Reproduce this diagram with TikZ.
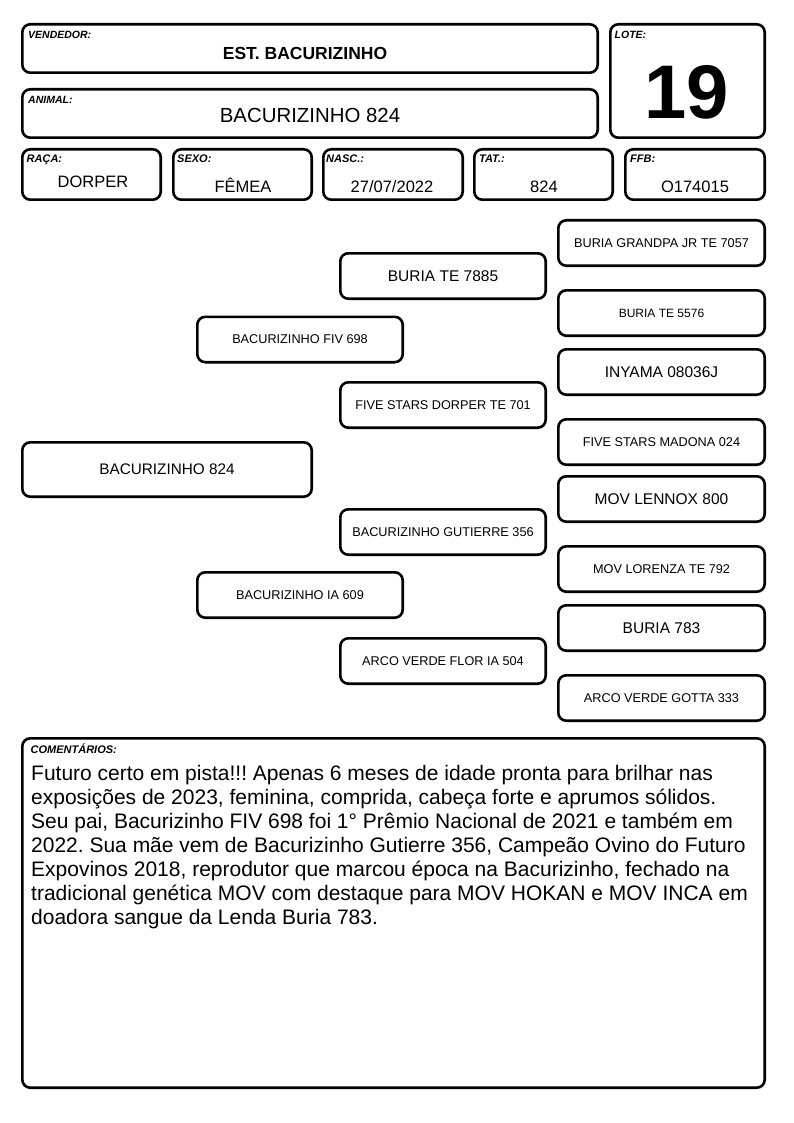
\documentclass[tikz,border=0pt]{standalone}
\usepackage{fontspec}
\setmainfont{Liberation Sans}
\frenchspacing
\begin{document}
\begin{tikzpicture}[x=1pt,y=-1pt,
  box/.style={draw, line width=2.6pt, rounded corners=8pt, inner sep=0pt, align=center},
  pbox/.style={box, minimum height=45.4pt},
  lbl/.style={anchor=base west, inner sep=0pt, font=\fontsize{10.5}{12}\selectfont\bfseries\itshape},
  lbs/.style={lbl, font=\fontsize{11}{13}\selectfont\bfseries\itshape},
  val/.style={anchor=base, inner sep=0pt, font=\fontsize{16.5}{20}\selectfont},
  ps/.style={font=\fontsize{12.7}{15}\selectfont},
  pl/.style={font=\fontsize{15.5}{18}\selectfont}
]
\useasboundingbox (0,0) rectangle (794,1123);
% header boxes
\node[box, minimum width=575.4pt, minimum height=48.4pt] (vend) at (310,48.5) {};
\node[box, minimum width=575.4pt, minimum height=48.4pt] (anim) at (310,113.5) {};
\node[box, minimum width=154.4pt, minimum height=113.4pt] (lote) at (687.5,81) {};
\node[lbl] (vendl) at (28,39) {VENDEDOR:};
\node[anchor=base, inner sep=0pt, font=\fontsize{17.5}{20}\selectfont\bfseries] (vendt) at (305,60) {EST. BACURIZINHO};
\node[lbl] (animl) at (28,103.5) {ANIMAL:};
\node[anchor=base, inner sep=0pt, font=\fontsize{20.4}{24}\selectfont] (animt) at (310,123) {BACURIZINHO 824};
\node[lbl] (lotel) at (614.5,39) {LOTE:};
\node[inner sep=0pt, font=\fontsize{76}{80}\selectfont\bfseries] (lotet) at (687,92.5) {19};
% info row
\node[box, minimum width=138.4pt, minimum height=50.4pt] (raca) at (91.5,174.5) {};
\node[box, minimum width=138.4pt, minimum height=50.4pt] (sexo) at (242.5,174.5) {};
\node[box, minimum width=139.4pt, minimum height=50.4pt] (nasc) at (393,174.5) {};
\node[box, minimum width=138.4pt, minimum height=50.4pt] (tat) at (543.5,174.5) {};
\node[box, minimum width=139.4pt, minimum height=50.4pt] (ffb) at (695,174.5) {};
\node[lbs] (racal) at (26.5,163) {RAÇA:};
\node[lbs] (sexol) at (177,163) {SEXO:};
\node[lbs] (nascl) at (326,163) {NASC.:};
\node[lbs] (tatl) at (479,163) {TAT.:};
\node[lbs] (ffbl) at (630,163) {FFB:};
\node[val] (racat) at (93,188) {DORPER};
\node[val] (sexot) at (243,193) {FÊMEA};
\node[val] (nasct) at (392,193) {27/07/2022};
\node[val] (tatt) at (544,193) {824};
\node[val] (ffbt) at (695,193) {O174015};
% pedigree
\node[box, minimum width=289.4pt, minimum height=54.4pt, font=\fontsize{15.3}{18}\selectfont] (p1) at (167,469.5) {BACURIZINHO 824};
\node[pbox, minimum width=205.4pt, ps] (f) at (300,339.5) {BACURIZINHO FIV 698};
\node[pbox, minimum width=205.4pt, ps] (m) at (300,595) {BACURIZINHO IA 609};
\node[pbox, minimum width=205.4pt, pl] (ff) at (443,276) {BURIA TE 7885};
\node[pbox, minimum width=205.4pt, ps] (fm) at (443,405) {FIVE STARS DORPER TE 701};
\node[pbox, minimum width=205.4pt, ps] (mf) at (443,532) {BACURIZINHO GUTIERRE 356};
\node[pbox, minimum width=205.4pt, ps] (mm) at (443,661) {ARCO VERDE FLOR IA 504};
\node[pbox, minimum width=206.4pt, ps] (fff) at (661.5,243) {BURIA GRANDPA JR TE 7057};
\node[pbox, minimum width=206.4pt, font=\fontsize{12}{14}\selectfont] (ffm) at (661.5,313) {BURIA TE 5576};
\node[pbox, minimum width=206.4pt, pl] (fmf) at (661.5,372) {INYAMA 08036J};
\node[pbox, minimum width=206.4pt, ps] (fmm) at (661.5,442) {FIVE STARS MADONA 024};
\node[pbox, minimum width=206.4pt, pl] (mff) at (661.5,499) {MOV LENNOX 800};
\node[pbox, minimum width=206.4pt, ps] (mfm) at (661.5,569) {MOV LORENZA TE 792};
\node[pbox, minimum width=206.4pt, pl] (mmf) at (661.5,628) {BURIA 783};
\node[pbox, minimum width=206.4pt, ps] (mmm) at (661.5,698) {ARCO VERDE GOTTA 333};
% comments
\node[box, minimum width=742.4pt, minimum height=349.4pt] (com) at (393.5,913) {};
\node[lbs] (coml) at (30.5,753.5) {COMENTÁRIOS:};
\node[anchor=north west, inner sep=0pt, align=left, font=\fontsize{21}{24}\selectfont] (comt) at (31,765) {Futuro certo em pista!!! Apenas 6 meses de idade pronta para brilhar nas\\
exposições de 2023, feminina, comprida, cabeça forte e aprumos sólidos.\\
Seu pai, Bacurizinho FIV 698 foi 1° Prêmio Nacional de 2021 e também em\\
2022. Sua mãe vem de Bacurizinho Gutierre 356, Campeão Ovino do Futuro\\
Expovinos 2018, reprodutor que marcou época na Bacurizinho, fechado na\\
tradicional genética MOV com destaque para MOV HOKAN e MOV INCA em\\
doadora sangue da Lenda Buria 783.};
\end{tikzpicture}
\end{document}
